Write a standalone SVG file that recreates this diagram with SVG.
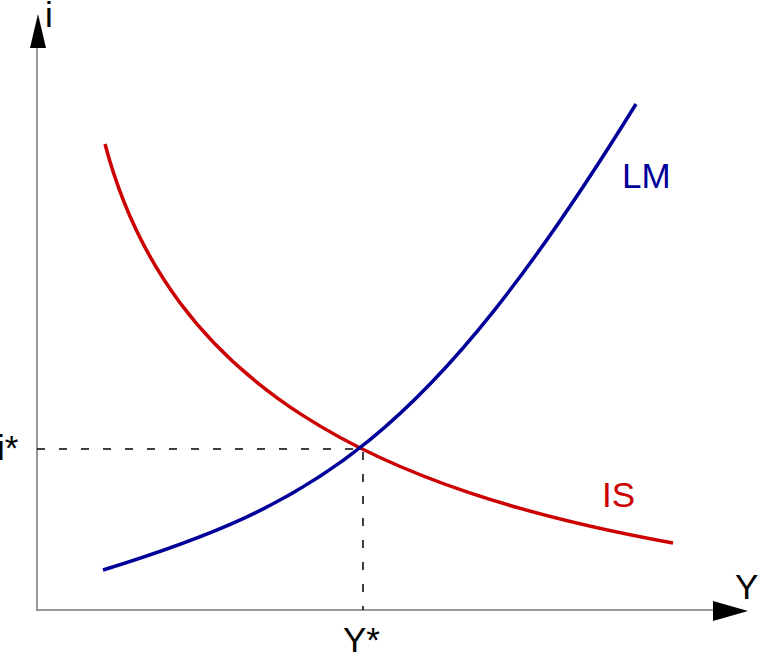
<svg xmlns="http://www.w3.org/2000/svg" width="759" height="653" viewBox="0 0 759 653">
<style>
.axis{stroke:#777;stroke-width:1.5;fill:none}
.dash{stroke:#000;stroke-width:1.5;stroke-dasharray:8 14;fill:none}
.lbl{font-family:"Liberation Sans",Arial,sans-serif;font-size:35px}
.is{stroke:#cc0000;stroke-width:3.5;fill:none}
.lm{stroke:#000099;stroke-width:3.5;fill:none}
</style>
<rect width="759" height="653" fill="#fff"/>
<g id="connectors">
<line class="axis" x1="37" y1="611" x2="37" y2="44"/>
<polygon points="38,14 30,48 46,48" fill="#000"/>
<line class="axis" x1="37" y1="610" x2="716" y2="610"/>
<polygon points="748,611 713,601 713,621" fill="#000"/>
<line class="dash" x1="37" y1="449" x2="362" y2="449"/>
<line class="dash" x1="363" y1="452" x2="363" y2="610"/>
</g>
<g id="IS">
<path class="is" d="M105,144 C170,390 380,490 673,543"/>
<text class="lbl" x="602" y="507" fill="#cc0000">IS</text>
</g>
<g id="LM">
<path class="lm" d="M103,570 C313,505 426,444 636,104"/>
<text class="lbl" x="622" y="188" fill="#000099">LM</text>
</g>
<g id="labels">
<text class="lbl" x="45" y="27">i</text>
<text class="lbl" x="-3" y="460">i*</text>
<text class="lbl" x="735" y="599">Y</text>
<text class="lbl" x="343" y="652">Y*</text>
</g>
</svg>
